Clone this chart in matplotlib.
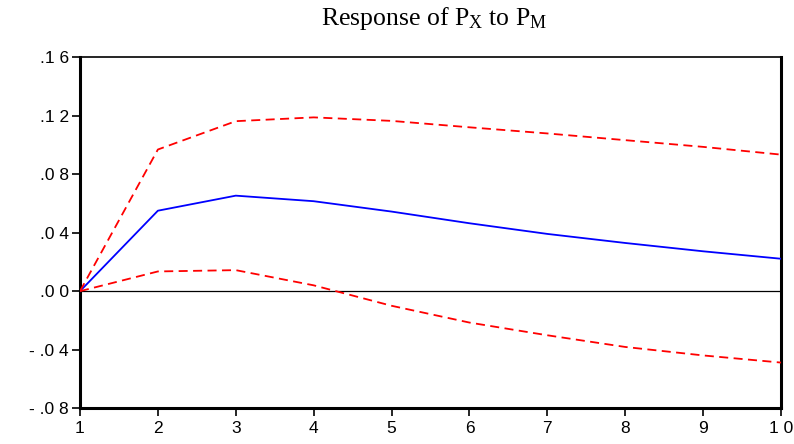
import matplotlib
matplotlib.use("Agg")
import matplotlib.pyplot as plt
from matplotlib.ticker import FixedLocator, FixedFormatter

periods = [1, 2, 3, 4, 5, 6, 7, 8, 9, 10]
response = [0.0, 0.0551, 0.0654, 0.0616, 0.0545, 0.0465, 0.0392, 0.0330, 0.0273, 0.0222]
upper = [0.0, 0.0970, 0.1164, 0.1190, 0.1166, 0.1122, 0.1080, 0.1034, 0.0988, 0.0935]
lower = [0.0, 0.0135, 0.0144, 0.0040, -0.0100, -0.0215, -0.0302, -0.0382, -0.0440, -0.0489]

ytick_vals = [-0.08, -0.04, 0.0, 0.04, 0.08, 0.12, 0.16]
ytick_labels = ["- .0 8", "- .0 4", ".0 0", ".0 4", ".0 8", ".1 2", ".1 6"]
xtick_labels = ["1", "2", "3", "4", "5", "6", "7", "8", "9", "1 0"]

plt.rcParams['mathtext.fontset'] = 'custom'
plt.rcParams['mathtext.rm'] = 'Liberation Serif'
plt.rcParams['mathtext.it'] = 'Liberation Serif'

fig = plt.figure(figsize=(7.94, 4.44), dpi=100)
ax = fig.add_axes([80/794, 36/444, 701/794, 350.5/444])

ax.axhline(0, color='black', lw=0.9, zorder=1)
ax.plot(periods, response, color='#0000ff', lw=1.3, zorder=3)
ax.plot(periods, upper, color='#ff0000', lw=1.3, ls=(0, (5, 3)), zorder=3)
ax.plot(periods, lower, color='#ff0000', lw=1.3, ls=(0, (5, 3)), zorder=3)

ax.set_xlim(1, 10)
ax.set_ylim(-0.08, 0.16)
ax.yaxis.set_major_locator(FixedLocator(ytick_vals))
ax.yaxis.set_major_formatter(FixedFormatter(ytick_labels))
ax.xaxis.set_major_locator(FixedLocator(periods))
ax.xaxis.set_major_formatter(FixedFormatter(xtick_labels))

tick_font = ['Liberation Sans Narrow', 'Liberation Sans', 'DejaVu Sans']
for lab in ax.get_xticklabels() + ax.get_yticklabels():
    lab.set_family(tick_font)
    lab.set_fontsize(12.5)

ax.tick_params(axis='both', direction='out', length=6, width=1.2, color='black', pad=2)
ax.tick_params(axis='x', pad=3)

for side in ['left', 'bottom', 'right']:
    ax.spines[side].set_linewidth(2.2)
ax.spines['top'].set_linewidth(1.2)

fig.text(434/794, 1 - 18/444, r"Response of P$_{\mathrm{X}}$ to P$_{\mathrm{M}}$",
         ha='center', va='center', fontsize=18.5, family='Liberation Serif')

fig.savefig('out.png', dpi=100)
